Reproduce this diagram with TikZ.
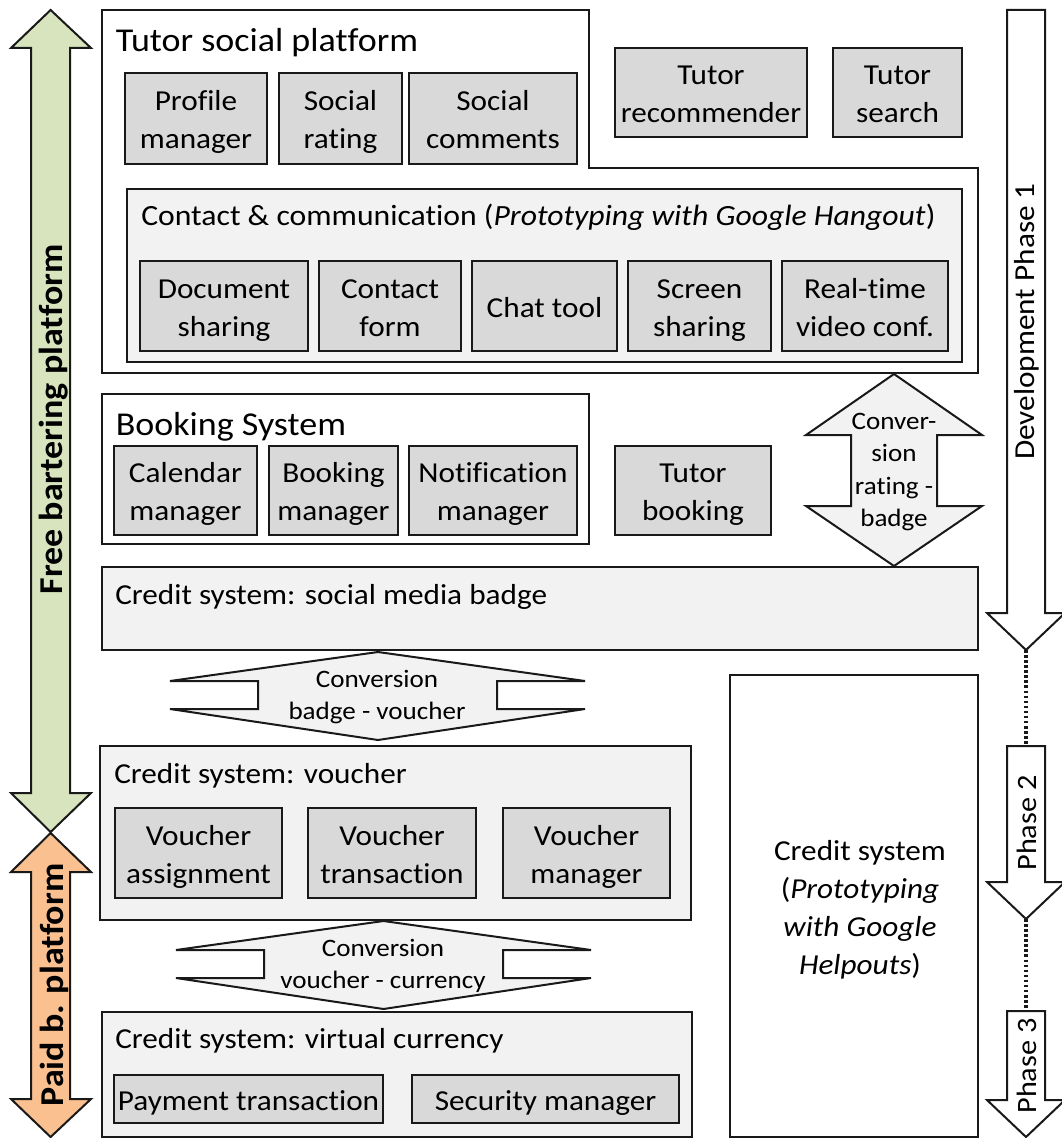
\documentclass[tikz,border=0pt]{standalone}
\usepackage{fontspec}
\setmainfont{Carlito}
\newfontfamily\widefont[FakeStretch=1.08,Ligatures=NoCommon]{Carlito}
\definecolor{boxgrey}{HTML}{D9D9D9}
\definecolor{panelgrey}{HTML}{F2F2F2}
\definecolor{greenfill}{HTML}{D7E4BD}
\definecolor{orangefill}{HTML}{FAC090}
\newcommand{\st}{\strut}
\tikzset{
  line/.style={draw=black!90,line width=1.5pt,line join=miter},
  bodyfont/.style={font=\widefont\fontsize{21.7}{28.5}\selectfont},
  titlefont/.style={font=\widefont\fontsize{25}{28}\selectfont},
  smallfont/.style={font=\widefont\fontsize{18.8}{24.4}\selectfont},
  phasefont/.style={font=\widefont\fontsize{21}{24}\selectfont},
  longphasefont/.style={font=\widefont\fontsize{21.7}{24}\selectfont},
  boldfont/.style={font=\widefont\bfseries\fontsize{25}{28}\selectfont},
  labeltext/.style={bodyfont,anchor=west,inner sep=0pt},
  itembox/.style={line,fill=boxgrey,bodyfont,align=center,inner sep=0pt,outer sep=0pt},
  panelbox/.style={line,fill=panelgrey,inner sep=0pt,outer sep=0pt},
  plainbox/.style={line,fill=white,inner sep=0pt,outer sep=0pt},
  dotline/.style={draw=black!90,line width=2.4pt,line cap=butt,dash pattern=on 1.9pt off 1.9pt},
}
\newcommand{\bx}[7]{\node[#1,minimum width={(#4-#2)*0.75pt},minimum height={(#5-#3)*0.75pt}] (#6) at ({(#2+#4)/2},{(#3+#5)/2}) {};
\node[bodyfont,align=center,inner sep=0pt] (#6text) at ({(#2+#4)/2},{(#3+#5)/2+3.6}) {#7};}
\begin{document}
\begin{tikzpicture}[x=0.75pt,y=-0.75pt]
\useasboundingbox (0,0) rectangle (1061,1138);
% left arrows
\path[line,fill=greenfill] (50.6,10)--(91,48)--(70,48)--(70,793)--(91,793)--(50.6,832)--(11,793)--(31,793)--(31,48)--(11,48)--cycle;
\path[line,fill=orangefill] (50.6,833)--(91,872)--(70,872)--(70,1099)--(91,1099)--(50.6,1137)--(11,1099)--(31,1099)--(31,872)--(11,872)--cycle;
\node[rotate=90,boldfont,inner sep=0pt] (free) at (54,419.5) {Free bartering platform};
\node[rotate=90,boldfont,inner sep=0pt] (paid) at (54,985) {Paid b. platform};
% tutor social platform
\path[line,fill=white] (102,10)--(589,10)--(589,168)--(978,168)--(978,373)--(102,373)--cycle;
\node[titlefont,anchor=west,inner sep=0pt] (tsp) at (115.5,42.5) {Tutor social platform};
\bx{itembox}{125}{73}{267}{164}{profile}{\st Profile\\\st manager}
\bx{itembox}{279}{73}{402}{164}{rating}{\st Social\\\st rating}
\bx{itembox}{409}{73}{577}{164}{comments}{\st Social\\\st comments}
\bx{itembox}{615}{48}{807}{137}{recommender}{\st Tutor\\\st recommender}
\bx{itembox}{833}{48}{962}{137}{search}{\st Tutor\\\st search}
\bx{panelbox}{127}{189}{962}{362}{contactpanel}{}
\node[labeltext,font=\widefont\fontsize{22}{28.5}\selectfont] (contacttitle) at (141,217) {Contact \& communication (\textit{Prototyping with Google Hangout})};
\bx{itembox}{140}{261}{308}{351}{document}{\st Document\\\st sharing}
\bx{itembox}{319}{261}{461}{351}{form}{\st Contact\\\st form}
\bx{itembox}{472}{261}{617}{351}{chat}{\st Chat tool}
\bx{itembox}{628}{261}{771}{351}{screen}{\st Screen\\\st sharing}
\bx{itembox}{782}{261}{948}{351}{video}{\st Real-time\\\st video conf.}
% booking
\bx{plainbox}{102}{394}{589}{544}{bookingpanel}{}
\node[titlefont,anchor=west,inner sep=0pt] (bookingtitle) at (115.5,427) {Booking System};
\bx{itembox}{114}{446}{257}{535}{calendar}{\st Calendar\\\st manager}
\bx{itembox}{269}{446}{398}{535}{bookingm}{\st Booking\\\st manager}
\bx{itembox}{409}{446}{577}{535}{notification}{\st Notification\\\st manager}
\bx{itembox}{615}{446}{771}{535}{tutorbooking}{\st Tutor\\\st booking}
% badge
\bx{panelbox}{102}{567}{978}{650}{badge}{}
\node[labeltext] (badgetitle) at (115,597) {Credit system: social media badge};
% conversion rating
\path[line,fill=panelgrey] (894,374)--(982,435)--(937,435)--(937,506)--(982,506)--(894,566)--(806,506)--(851,506)--(851,435)--(806,435)--cycle;
\node[smallfont,align=center,inner sep=0pt] (convrating) at (894,471.5) {\st Conver-\\\st sion\\\st rating -\\\st badge};
% conversion 1
\path[line,fill=panelgrey] (170,681)--(378,652)--(585,681)--(497,681)--(497,709)--(585,709)--(378,740)--(170,709)--(258,709)--(258,681)--cycle;
\node[smallfont,align=center,inner sep=0pt] (convbadge) at (377,697) {\st Conversion\\\st badge - voucher};
% voucher
\bx{panelbox}{100}{746}{691}{920}{voucher}{}
\node[labeltext] (vouchertitle) at (114,776) {Credit system: voucher};
\bx{itembox}{115}{808}{282}{898}{assignment}{\st Voucher\\\st assignment}
\bx{itembox}{308}{808}{476}{898}{transaction}{\st Voucher\\\st transaction}
\bx{itembox}{503}{808}{670}{898}{vmanager}{\st Voucher\\\st manager}
% conversion 2
\path[line,fill=panelgrey] (176,950)--(383.5,921)--(591,950)--(503,950)--(503,978)--(591,978)--(383.5,1009)--(176,978)--(264,978)--(264,950)--cycle;
\node[smallfont,align=center,inner sep=0pt] (convvoucher) at (383,966) {\st Conversion\\\st voucher - currency};
% virtual currency
\bx{panelbox}{102}{1012}{692}{1137}{currency}{}
\node[labeltext] (currencytitle) at (115,1041) {Credit system: virtual currency};
\bx{itembox}{114}{1075}{383}{1123}{payment}{\st Payment transaction}
\bx{itembox}{412}{1075}{679}{1123}{security}{\st Security manager}
% big credit box
\bx{plainbox}{730}{675}{978}{1137}{creditbig}{}
\node[bodyfont,align=center,inner sep=0pt] (credittext) at (860,909.5) {\st Credit system\\\st(\textit{Prototyping}\\\st\textit{with Google}\\\st\textit{Helpouts})};
% phases
\coordinate (p1tip) at (1026,650);
\coordinate (p2top) at (1026,746);
\coordinate (p2tip) at (1026,919);
\coordinate (p3top) at (1026,1011);
\draw[dotline] (p1tip)--(p2top);
\draw[dotline] (p2tip)--(p3top);
\path[line,fill=white] (1007,10)--(1045,10)--(1045,613)--(1065,613)--(p1tip)--(987,613)--(1007,613)--cycle;
\path[line,fill=white] (1007,746)--(1045,746)--(1045,882)--(1065,882)--(p2tip)--(987,882)--(1007,882)--cycle;
\path[line,fill=white] (1007,1011)--(1045,1011)--(1045,1100)--(1065,1100)--(1026,1137)--(987,1100)--(1007,1100)--cycle;
\node[rotate=90,longphasefont,inner sep=0pt] (ph1) at (1027,321.5) {Development Phase 1};
\node[rotate=90,phasefont,inner sep=0pt] (ph2) at (1027,823) {Phase 2};
\node[rotate=90,phasefont,inner sep=0pt] (ph3) at (1027,1066) {Phase 3};
\end{tikzpicture}
\end{document}
